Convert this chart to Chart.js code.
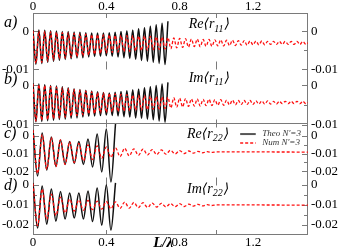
<!DOCTYPE html>
<html><head><meta charset="utf-8">
<script src="https://cdn.jsdelivr.net/npm/chart.js@4.4.1/dist/chart.umd.min.js"></script>
<style>html,body{margin:0;padding:0;background:#fff}#wrap{width:340px;height:251px}</style>
</head><body><div id="wrap"><canvas id="c" width="340" height="251"></canvas></div>
<script>
// ---- data (extrema of the oscillations) ----
const xAB = [0,0.016,0.032,0.048,0.064,0.08,0.096,0.112,0.128,0.144,0.16,0.176,0.192,0.208,0.224,0.24,0.256,0.272,0.288,0.304,0.32,0.336,0.352,0.368,0.384,0.4,0.416,0.432,0.448,0.464,0.48,0.496,0.512,0.528,0.544,0.56,0.576,0.592,0.608,0.624,0.64,0.656,0.672,0.688,0.704,0.72,0.736,0.752,0.768,0.784,0.8,0.816,0.832,0.848,0.864,0.88,0.896,0.912,0.928,0.944,0.96,0.976,0.992,1.008,1.024,1.04,1.056,1.072,1.088,1.104,1.12,1.136,1.152,1.168,1.184,1.2,1.216,1.232,1.248,1.264,1.28,1.296,1.312,1.328,1.344,1.36,1.376,1.392,1.408,1.424,1.44,1.456,1.472,1.488,1.5];
const theoA = [0.0004,-0.0086,0.0004,-0.0084,0.0003,-0.0081,0.0002,-0.0078,0.0001,-0.0076,
0.0000,-0.0074,0.0000,-0.0072,-0.0001,-0.0070,-0.0002,-0.0069,-0.0003,-0.0067,
-0.0004,-0.0066,-0.0004,-0.0065,-0.0004,-0.0064,-0.0003,-0.0065,-0.0002,-0.0067,
0.0000,-0.0069,0.0002,-0.0071,0.0004,-0.0073,0.0007,-0.0076,0.0010,-0.0078,
0.0014,-0.0081,0.0018,-0.0084,0.0022,-0.0087,0.0027];
const numA = [0.0002,-0.0084,0.0001,-0.0081,0.0000,-0.0078,-0.0001,-0.0075,-0.0002,-0.0072,
-0.0003,-0.0070,-0.0004,-0.0068,-0.0005,-0.0066,-0.0006,-0.0064,-0.0007,-0.0062,
-0.0008,-0.0060,-0.0008,-0.0058,-0.0009,-0.0056,-0.0009,-0.0055,-0.0010,-0.0054,
-0.0010,-0.0053,-0.0011,-0.0052,-0.0011,-0.0051,-0.0012,-0.0050,-0.0012,-0.0049,
-0.0013,-0.0048,-0.0014,-0.0047,-0.0015,-0.0046,-0.0016,-0.0045,-0.0017,-0.0043,
-0.0018,-0.0042,-0.0019,-0.0041,-0.0020,-0.0040,-0.0020,-0.0040,-0.0021,-0.0039,
-0.0021,-0.0039,-0.0022,-0.0038,-0.0022,-0.0038,-0.0023,-0.0037,-0.0023,-0.0037,
-0.0024,-0.0036,-0.0024,-0.0036,-0.0025,-0.0035,-0.0025,-0.0035,-0.0025,-0.0035,
-0.0026,-0.0034,-0.0026,-0.0034,-0.0026,-0.0034,-0.0026,-0.0034,-0.0026,-0.0034,
-0.0026,-0.0034,-0.0026,-0.0034,-0.0030];
const theoB = [0.0006,-0.0092,0.0004,-0.0091,0.0002,-0.0089,0.0000,-0.0088,-0.0001,-0.0086,
-0.0003,-0.0085,-0.0006,-0.0083,-0.0008,-0.0082,-0.0010,-0.0080,-0.0012,-0.0078,
-0.0014,-0.0077,-0.0016,-0.0076,-0.0018,-0.0075,-0.0019,-0.0076,-0.0017,-0.0077,
-0.0015,-0.0079,-0.0013,-0.0080,-0.0011,-0.0082,-0.0009,-0.0083,-0.0006,-0.0085,
-0.0003,-0.0087,0.0000,-0.0090,0.0004,-0.0093,0.0008];
const numB = [0.0004,-0.0090,0.0002,-0.0088,0.0000,-0.0086,-0.0002,-0.0084,-0.0004,-0.0082,
-0.0006,-0.0080,-0.0008,-0.0078,-0.0010,-0.0076,-0.0012,-0.0074,-0.0014,-0.0072,
-0.0016,-0.0071,-0.0018,-0.0069,-0.0019,-0.0068,-0.0020,-0.0067,-0.0021,-0.0066,
-0.0022,-0.0065,-0.0023,-0.0064,-0.0024,-0.0063,-0.0025,-0.0062,-0.0026,-0.0061,
-0.0027,-0.0060,-0.0028,-0.0059,-0.0029,-0.0058,-0.0030,-0.0057,-0.0031,-0.0055,
-0.0032,-0.0054,-0.0033,-0.0053,-0.0034,-0.0052,-0.0034,-0.0052,-0.0035,-0.0051,
-0.0035,-0.0051,-0.0036,-0.0050,-0.0036,-0.0050,-0.0037,-0.0049,-0.0037,-0.0049,
-0.0038,-0.0048,-0.0038,-0.0048,-0.0038,-0.0048,-0.0039,-0.0047,-0.0039,-0.0047,
-0.0039,-0.0047,-0.0040,-0.0047,-0.0040,-0.0046,-0.0040,-0.0046,-0.0040,-0.0046,
-0.0040,-0.0046,-0.0040,-0.0046,-0.0043];
const xCD = [0,0.025,0.05,0.075,0.1,0.125,0.15,0.175,0.2,0.225,0.25,0.275,0.3,0.325,0.35,0.375,0.4,0.425,0.45,0.475,0.5,0.525,0.55,0.575,0.6,0.625,0.65,0.675,0.7,0.725,0.75,0.775,0.8,0.825,0.85,0.875,0.9,0.925,0.95,0.975,1.0,1.5];
const theoC = [0.0031,-0.0225,0.0014,-0.0192,-0.0008,-0.0172,-0.0025,-0.0161,-0.0033,-0.0156,-0.0033,-0.0161,-0.0019,-0.0175,0.0008,-0.0203,0.0036,-0.0258,0.0064];
const numC = [0.0030,-0.0210,0.0005,-0.0188,-0.0010,-0.0173,-0.0025,-0.0160,-0.0035,-0.0150,
-0.0044,-0.0141,-0.0052,-0.0134,-0.0058,-0.0127,-0.0064,-0.0121,-0.0068,-0.0117,
-0.0071,-0.0113,-0.0074,-0.0110,-0.0076,-0.0108,-0.0078,-0.0106,-0.0080,-0.0104,
-0.0082,-0.0102,-0.0084,-0.0100,-0.0086,-0.0098,-0.0088,-0.0096,-0.0090,-0.0094,
-0.0091,-0.0092];
const theoD = [0.0008,-0.0218,-0.0008,-0.0198,-0.0023,-0.0183,-0.0035,-0.0173,-0.0043,-0.0168,-0.0043,-0.0173,-0.0033,-0.0185,-0.0018,-0.0203,-0.0003,-0.0228,0.0008];
const numD = [0.0005,-0.0205,-0.0023,-0.0175,-0.0048,-0.0155,-0.0063,-0.0142,-0.0073,-0.0133,
-0.0077,-0.0129,-0.0080,-0.0126,-0.0083,-0.0123,-0.0085,-0.0121,-0.0087,-0.0119,
-0.0088,-0.0118,-0.0090,-0.0116,-0.0091,-0.0115,-0.0093,-0.0113,-0.0094,-0.0112,
-0.0095,-0.0111,-0.0096,-0.0110,-0.0098,-0.0108,-0.0099,-0.0107,-0.0101,-0.0105,
-0.0102,-0.0103];

const xTicks = [0, 0.4, 0.8, 1.2];
const xTickLabels = ['0', '0.4', '0.8', '1.2'];
const yTicksAB = [0, -0.005, -0.01];
const yLabelsAB = ['0', '', '-0.01'];
const yTicksCD = [0, -0.005, -0.01, -0.015, -0.02];
const yLabelsCD = ['0', '', '-0.01', '', '-0.02'];
const frameTickX = [0.4, 1.0];
const panelLetters = ['a)', 'b)', 'c)', 'd)'];
const panelTitles = [['Re', '11'], ['Im', '11'], ['Re', '22'], ['Im', '22']];
const seriesNames = ["Theo N'=3", "Num N'=3"];
const xTitle = 'L/\u03bb';

// ---- chart ----
const serif = "'Liberation Serif','DejaVu Serif',serif";
const pts = (xs, ys) => ys.map((y, i) => ({x: xs[i], y}));

function yScale(pos, min, max, ticks, labels) {
  return {
    type: 'linear', position: pos, min, max, bounds: 'data',
    grid: {display: false, drawTicks: false, tickLength: 0}, border: {display: false},
    afterBuildTicks: s => { s.ticks = ticks.map(v => ({value: v})); },
    afterFit: s => { s.width = 0; },
    ticks: {autoSkip: false, padding: pos === 'left' ? 4 : 3, color: '#000',
      font: {family: serif, size: 13, lineHeight: 1},
      callback: (v, i) => labels[i]}
  };
}
function xScale(pos, pad) {
  return {
    type: 'linear', axis: 'x', position: pos, min: 0, max: 1.5, bounds: 'data',
    grid: {display: false, drawTicks: false, tickLength: 0}, border: {display: false},
    afterBuildTicks: s => { s.ticks = xTicks.map(v => ({value: v})); },
    afterFit: s => { s.height = 0; },
    ticks: {autoSkip: false, maxRotation: 0, padding: pad, color: '#000',
      font: {family: serif, size: 13, lineHeight: 1},
      callback: (v, i) => xTickLabels[i]}
  };
}

const theoStyle = {borderColor: '#111', borderWidth: 1.5, pointRadius: 0, cubicInterpolationMode: 'monotone', order: 1, fill: false};
const numStyle = {borderColor: '#ff1010', borderWidth: 1.3, borderDash: [3, 2], pointRadius: 0, cubicInterpolationMode: 'monotone', order: 0, fill: false};

const datasets = [
  {label: seriesNames[1], data: pts(xAB, numA), yAxisID: 'ya', ...numStyle},
  {label: seriesNames[1], data: pts(xAB, numB), yAxisID: 'yb', ...numStyle},
  {label: seriesNames[1], data: pts(xCD, numC), yAxisID: 'yc', ...numStyle},
  {label: seriesNames[1], data: pts(xCD, numD), yAxisID: 'yd', ...numStyle},
  {label: seriesNames[0], data: pts(xAB, theoA), yAxisID: 'ya', ...theoStyle},
  {label: seriesNames[0], data: pts(xAB, theoB), yAxisID: 'yb', ...theoStyle},
  {label: seriesNames[0], data: pts(xCD, theoC), yAxisID: 'yc', ...theoStyle},
  {label: seriesNames[0], data: pts(xCD, theoD), yAxisID: 'yd', ...theoStyle}
].map(d => ({...d, xAxisID: 'x'}));

const ranges = {a: [-0.053553, 0.004868], b: [-0.037848, 0.018354], c: [-0.055278, 0.068056], d: [-0.02525, 0.08575]};

function drawTitle(ctx, parts, xRight, yMid, size) {
  const f1 = `italic ${size}px ${serif}`, f2 = `italic ${Math.round(size * 0.72)}px ${serif}`;
  const main = parts[0] + '\u27e8r', sub = parts[1], close = '\u27e9';
  ctx.font = f1; const w1 = ctx.measureText(main).width, w3 = ctx.measureText(close).width;
  ctx.font = f2; const w2 = ctx.measureText(sub).width + 1;
  let x = xRight - (w1 + w2 + w3);
  ctx.textBaseline = 'middle'; ctx.textAlign = 'left';
  ctx.font = f1; ctx.fillText(main, x, yMid); x += w1;
  ctx.font = f2; ctx.fillText(sub, x, yMid + size * 0.32); x += w2;
  ctx.font = f1; ctx.fillText(close, x, yMid);
}

// give the zero-size axis boxes a real label area after layout (labels are clipped to the box)
const axisBoxes = {
  id: 'axisBoxes',
  afterLayout(chart) {
    const a = chart.chartArea;
    for (const s of Object.values(chart.scales)) {
      const p = s.options.position;
      if (p === 'left') { s.left = 0; s.right = a.left; s.width = a.left; }
      else if (p === 'right') { s.left = a.right; s.right = chart.width; s.width = chart.width - a.right; }
      else if (p === 'bottom') { s.top = a.bottom; s.bottom = chart.height; s.height = chart.height - a.bottom; }
      else if (p === 'top') { s.top = 0; s.bottom = a.top; s.height = a.top; }
    }
  }
};

const decor = {
  id: 'decor',
  beforeDatasetsDraw(chart) {
    const {ctx, chartArea: a, scales: s} = chart;
    ctx.save();
    ctx.strokeStyle = '#7a7a7a'; ctx.lineWidth = 1;
    ctx.strokeRect(a.left + 0.5, a.top + 0.5, a.right - a.left - 1, a.bottom - a.top - 1);
    const bAB = Math.round(s.ya.getPixelForValue(-0.0089)) + 0.5;
    const bBC = Math.round(s.yc.getPixelForValue(0.007)) + 0.5;
    const bCD = Math.round(s.yd.getPixelForValue(0.0018)) + 0.5;
    ctx.beginPath(); ctx.moveTo(a.left, bBC); ctx.lineTo(a.right, bBC); ctx.stroke();
    ctx.beginPath();
    for (const v of frameTickX) {
      const px = Math.round(s.x.getPixelForValue(v)) + 0.5;
      ctx.moveTo(px, a.top); ctx.lineTo(px, a.top + 5);
      ctx.moveTo(px, a.bottom); ctx.lineTo(px, a.bottom - 5);
      for (const b of [bAB, bBC, bCD]) { ctx.moveTo(px, b - 4); ctx.lineTo(px, b + 4); }
    }
    for (const id of ['ya', 'yb', 'yc', 'yd']) {
      for (const t of s[id].ticks) {
        const py = Math.round(s[id].getPixelForValue(t.value)) + 0.5;
        const len = (Math.abs(t.value * 100) % 1 < 1e-6) ? 6 : 4;
        ctx.moveTo(a.left, py); ctx.lineTo(a.left + len, py);
        ctx.moveTo(a.right, py); ctx.lineTo(a.right - len, py);
      }
    }
    ctx.stroke();
    ctx.restore();
  },
  afterDatasetsDraw(chart) {
    const {ctx, chartArea: a, scales: s} = chart;
    ctx.save();
    ctx.fillStyle = '#000';
    ctx.font = `italic 16px ${serif}`; ctx.textAlign = 'left'; ctx.textBaseline = 'middle';
    const letterPos = [['ya', 0.0022], ['yb', 0.0014], ['yc', 0.0008], ['yd', -0.0008]];
    letterPos.forEach((p, i) => ctx.fillText(panelLetters[i], 4, s[p[0]].getPixelForValue(p[1])));
    const titlePos = [['ya', 0.0018, 1.075], ['yb', 0.0019, 1.075], ['yc', 0.0008, 1.07], ['yd', -0.0022, 1.07]];
    titlePos.forEach((p, i) => drawTitle(ctx, panelTitles[i], s.x.getPixelForValue(p[2]), s[p[0]].getPixelForValue(p[1]), 14));
    const lx0 = s.x.getPixelForValue(1.13), lx1 = s.x.getPixelForValue(1.215), tx = s.x.getPixelForValue(1.25);
    const rows = [[0.0008, datasets[4]], [-0.0042, datasets[0]]];
    ctx.font = `italic 9px ${serif}`; ctx.fillStyle = '#333';
    rows.forEach(([v, ds]) => {
      const py = s.yc.getPixelForValue(v);
      ctx.save();
      ctx.strokeStyle = ds.borderColor === '#111' ? '#555' : '#ff5050';
      ctx.lineWidth = 2; ctx.setLineDash(ds.borderDash || []);
      ctx.beginPath(); ctx.moveTo(lx0, py); ctx.lineTo(lx1, py); ctx.stroke();
      ctx.restore();
      ctx.fillText(ds.label, tx, py);
    });
    ctx.fillStyle = '#000';
    ctx.font = `italic bold 15px ${serif}`; ctx.textAlign = 'center'; ctx.textBaseline = 'middle';
    ctx.fillText(xTitle, s.x.getPixelForValue(0.71), a.bottom + 8);
    ctx.restore();
  }
};

new Chart(document.getElementById('c'), {
  type: 'line',
  data: {datasets},
  options: {
    responsive: false, animation: false, devicePixelRatio: 1,
    layout: {padding: {left: 33, right: 32, top: 13, bottom: 16}},
    plugins: {legend: {display: false}, tooltip: {enabled: false}},
    elements: {line: {tension: 0}},
    scales: {
      x: xScale('bottom', 1),
      x2: xScale('top', 0),
      ya: yScale('left', ...ranges.a, yTicksAB, yLabelsAB),
      yb: yScale('left', ...ranges.b, yTicksAB, yLabelsAB),
      yc: yScale('left', ...ranges.c, yTicksCD, yLabelsCD),
      yd: yScale('left', ...ranges.d, yTicksCD, yLabelsCD),
      ya2: yScale('right', ...ranges.a, yTicksAB, yLabelsAB),
      yb2: yScale('right', ...ranges.b, yTicksAB, yLabelsAB),
      yc2: yScale('right', ...ranges.c, yTicksCD, yLabelsCD),
      yd2: yScale('right', ...ranges.d, yTicksCD, yLabelsCD)
    }
  },
  plugins: [axisBoxes, decor]
});
</script></body></html>
